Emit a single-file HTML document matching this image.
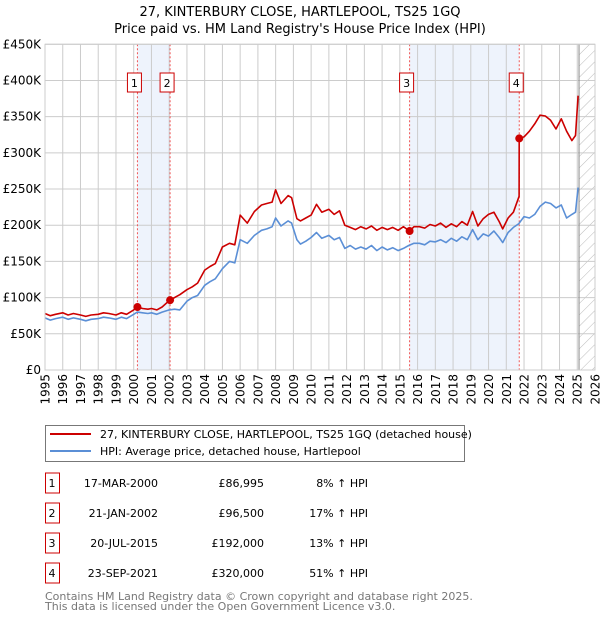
<!DOCTYPE html>
<html><head><meta charset="utf-8">
<style>
body{margin:0;background:#fff;font-family:"DejaVu Sans","Liberation Sans",sans-serif;}
svg text{font-family:"DejaVu Sans","Liberation Sans",sans-serif;}
</style></head>
<body>
<svg id="chart" width="600" height="620" xmlns="http://www.w3.org/2000/svg">
<defs>
<pattern id="hatch" patternUnits="userSpaceOnUse" width="8" height="8" patternTransform="rotate(45)">
<line x1="0" y1="0" x2="0" y2="8" stroke="#bbb" stroke-width="1"/>
</pattern>
</defs>
<text x="300" y="16" text-anchor="middle" font-size="13">27, KINTERBURY CLOSE, HARTLEPOOL, TS25 1GQ</text>
<text x="300" y="33" text-anchor="middle" font-size="13">Price paid vs. HM Land Registry's House Price Index (HPI)</text>
<g id="plot"></g>
<g font-size="12" text-anchor="end">
<text transform="translate(49.5,374) rotate(-90)">1995</text>
<text transform="translate(67.2,374) rotate(-90)">1996</text>
<text transform="translate(85.0,374) rotate(-90)">1997</text>
<text transform="translate(102.7,374) rotate(-90)">1998</text>
<text transform="translate(120.5,374) rotate(-90)">1999</text>
<text transform="translate(138.2,374) rotate(-90)">2000</text>
<text transform="translate(156.0,374) rotate(-90)">2001</text>
<text transform="translate(173.7,374) rotate(-90)">2002</text>
<text transform="translate(191.4,374) rotate(-90)">2003</text>
<text transform="translate(209.2,374) rotate(-90)">2004</text>
<text transform="translate(226.9,374) rotate(-90)">2005</text>
<text transform="translate(244.7,374) rotate(-90)">2006</text>
<text transform="translate(262.4,374) rotate(-90)">2007</text>
<text transform="translate(280.1,374) rotate(-90)">2008</text>
<text transform="translate(297.9,374) rotate(-90)">2009</text>
<text transform="translate(315.6,374) rotate(-90)">2010</text>
<text transform="translate(333.4,374) rotate(-90)">2011</text>
<text transform="translate(351.1,374) rotate(-90)">2012</text>
<text transform="translate(368.9,374) rotate(-90)">2013</text>
<text transform="translate(386.6,374) rotate(-90)">2014</text>
<text transform="translate(404.3,374) rotate(-90)">2015</text>
<text transform="translate(422.1,374) rotate(-90)">2016</text>
<text transform="translate(439.8,374) rotate(-90)">2017</text>
<text transform="translate(457.6,374) rotate(-90)">2018</text>
<text transform="translate(475.3,374) rotate(-90)">2019</text>
<text transform="translate(493.0,374) rotate(-90)">2020</text>
<text transform="translate(510.8,374) rotate(-90)">2021</text>
<text transform="translate(528.5,374) rotate(-90)">2022</text>
<text transform="translate(546.3,374) rotate(-90)">2023</text>
<text transform="translate(564.0,374) rotate(-90)">2024</text>
<text transform="translate(581.7,374) rotate(-90)">2025</text>
<text transform="translate(599.5,374) rotate(-90)">2026</text>
</g>
<g>
<rect x="45.5" y="425.5" width="419" height="36" fill="#fff" stroke="#777"/>
<line x1="50" y1="434" x2="91" y2="434" stroke="#cc0000" stroke-width="2"/>
<text x="100" y="438" font-size="11">27, KINTERBURY CLOSE, HARTLEPOOL, TS25 1GQ (detached house)</text>
<line x1="50" y1="451" x2="91" y2="451" stroke="#5b8fd6" stroke-width="2"/>
<text x="100" y="455" font-size="11">HPI: Average price, detached house, Hartlepool</text>
</g>
<g id="table"></g>
<text x="45" y="600" font-size="11" fill="#777">Contains HM Land Registry data © Crown copyright and database right 2025.</text>
<text x="45" y="610" font-size="11" fill="#777">This data is licensed under the Open Government Licence v3.0.</text>
</svg>
<script>
const yTicks=[0,50,100,150,200,250,300,350,400,450];
const yTickLabels=["£0","£50K","£100K","£150K","£200K","£250K","£300K","£350K","£400K","£450K"];
const xYears=[1995,1996,1997,1998,1999,2000,2001,2002,2003,2004,2005,2006,2007,2008,2009,2010,2011,2012,2013,2014,2015,2016,2017,2018,2019,2020,2021,2022,2023,2024,2025,2026];
const hpiDates=[1995,1995.3,1995.6,1996,1996.3,1996.6,1997,1997.3,1997.6,1998,1998.3,1998.6,1999,1999.3,1999.6,2000,2000.2,2000.5,2000.8,2001,2001.3,2001.6,2002,2002.3,2002.6,2003,2003.3,2003.6,2004,2004.3,2004.6,2005,2005.4,2005.7,2006,2006.4,2006.8,2007.2,2007.5,2007.8,2008,2008.3,2008.7,2008.9,2009.2,2009.4,2009.7,2010,2010.3,2010.6,2011,2011.3,2011.6,2011.9,2012.2,2012.5,2012.8,2013.1,2013.4,2013.7,2014,2014.3,2014.6,2014.9,2015.2,2015.5,2015.8,2016.1,2016.4,2016.7,2017,2017.3,2017.6,2017.9,2018.2,2018.5,2018.8,2019.1,2019.4,2019.7,2020,2020.3,2020.6,2020.8,2021.1,2021.4,2021.7,2022,2022.3,2022.6,2022.9,2023.2,2023.5,2023.8,2024.1,2024.4,2024.7,2024.9,2025.05];
const hpiValues=[72,69,71,73,70,72,70,68,70,71,73,72,70,73,71,77,80,79,78,79,77,80,83,84,83,95,100,103,117,122,126,140,150,148,180,175,186,193,195,198,210,199,206,203,180,174,178,183,190,182,186,180,183,168,172,167,170,167,172,165,170,166,169,165,168,172,175,175,173,178,177,180,176,182,178,184,180,194,180,188,185,192,183,176,190,197,202,212,210,215,226,232,230,224,228,210,215,218,252];
const ppDates=[1995,1995.3,1995.6,1996,1996.3,1996.6,1997,1997.3,1997.6,1998,1998.3,1998.6,1999,1999.3,1999.6,2000,2000.21,2000.5,2000.8,2001,2001.3,2001.6,2002.05,2002.3,2002.6,2003,2003.3,2003.6,2004,2004.3,2004.6,2005,2005.4,2005.7,2006,2006.4,2006.8,2007.2,2007.5,2007.8,2008,2008.3,2008.7,2008.9,2009.2,2009.4,2009.7,2010,2010.3,2010.6,2011,2011.3,2011.6,2011.9,2012.2,2012.5,2012.8,2013.1,2013.4,2013.7,2014,2014.3,2014.6,2014.9,2015.2,2015.55,2015.8,2016.1,2016.4,2016.7,2017,2017.3,2017.6,2017.9,2018.2,2018.5,2018.8,2019.1,2019.4,2019.7,2020,2020.3,2020.6,2020.8,2021.1,2021.4,2021.72,2021.73,2022,2022.3,2022.6,2022.9,2023.2,2023.5,2023.8,2024.1,2024.4,2024.7,2024.9,2025.05];
const ppValues=[78,75,77,79,76,78,76,74,76,77,79,78,76,79,77,83,87,85,84,85,83,87,97,100,104,111,115,120,138,143,147,170,175,173,214,203,219,228,230,232,249,230,241,238,209,206,210,214,229,218,222,215,220,200,197,194,198,195,199,193,197,194,197,193,198,192,198,198,196,201,199,203,197,202,198,205,200,219,199,209,215,218,205,195,210,218,240,320,322,330,340,352,351,345,333,347,330,317,324,379];
const saleDates=[2000.21,2002.05,2015.55,2021.73];
const saleValues=[86.995,96.5,192,320];
const saleLabels=["1","2","3","4"];
const saleDateText=["17-MAR-2000","21-JAN-2002","20-JUL-2015","23-SEP-2021"];
const salePriceText=["£86,995","£96,500","£192,000","£320,000"];
const salePctText=["8% ↑ HPI","17% ↑ HPI","13% ↑ HPI","51% ↑ HPI"];

const L=45,R=595,T=44.3,B=370,NS="http://www.w3.org/2000/svg";
const x=d=>L+(d-1995)*(R-L)/31;
const y=v=>B-v*(B-T)/450;
const g=document.getElementById('plot');
function mk(tag,attrs,parent){const e=document.createElementNS(NS,tag);for(const k in attrs)e.setAttribute(k,attrs[k]);(parent||g).appendChild(e);return e;}
mk('rect',{x:L,y:T,width:R-L,height:B-T,fill:'#fff'});
[[0,1],[2,3]].forEach(p=>{const r=mk('rect',{x:x(saleDates[p[0]]),y:T,width:x(saleDates[p[1]])-x(saleDates[p[0]]),height:B-T,fill:'#eef3fc'});

});
const h=mk('rect',{x:x(2025.1),y:T,width:R-x(2025.1),height:B-T,fill:'url(#hatch)'});


yTicks.forEach((v,i)=>{mk('line',{x1:L,x2:R,y1:y(v),y2:y(v),stroke:'#ccc'});
const t=mk('text',{x:L-4,y:y(v)+4,'text-anchor':'end','font-size':12});t.textContent=yTickLabels[i];

});
xYears.forEach(yr=>{mk('line',{x1:x(yr),x2:x(yr),y1:T,y2:B,stroke:'#ccc'});});
mk('line',{x1:x(2025.1),x2:x(2025.1),y1:T,y2:B,stroke:'#888'});
saleDates.forEach(d=>{const l=mk('line',{x1:x(d),x2:x(d),y1:T,y2:B,stroke:'#ee5555','stroke-dasharray':'2,2'});

});
function path(ds,vs,col,name){const p=mk('path',{d:ds.map((d,i)=>(i?'L':'M')+x(d).toFixed(1)+','+y(vs[i]).toFixed(1)).join(''),fill:'none',stroke:col,'stroke-width':1.6,'stroke-linejoin':'round'});

}
path(hpiDates,hpiValues,'#5b8fd6','hpi-line');
path(ppDates,ppValues,'#cc0000','price-paid-line');
saleDates.forEach((d,i)=>{const c=mk('circle',{cx:x(d),cy:y(saleValues[i]),r:4,fill:'#cc0000'});


const bx=mk('rect',{x:x(d)-10,y:73,width:14,height:19,fill:'#fff',stroke:'#cc0000'});


const t=mk('text',{x:x(d)-3,y:87,'text-anchor':'middle','font-size':11});t.textContent=saleLabels[i];

});
mk('rect',{x:L,y:T,width:R-L,height:B-T,fill:'none',stroke:'#ccc'});
const tb=document.getElementById('table');
saleLabels.forEach((s,i)=>{const cy=483+i*30;
const bx=mk('rect',{x:45.5,y:cy-10,width:14,height:20,fill:'#fff',stroke:'#cc0000'},tb);


const cells=[[52,'middle',s],[158,'end',saleDateText[i]],[264,'end',salePriceText[i]],[368,'end',salePctText[i]]];
cells.forEach(c=>{const t=mk('text',{x:c[0],y:cy+4,'text-anchor':c[1],'font-size':11},tb);t.textContent=c[2];

});});
</script>
</body></html>
